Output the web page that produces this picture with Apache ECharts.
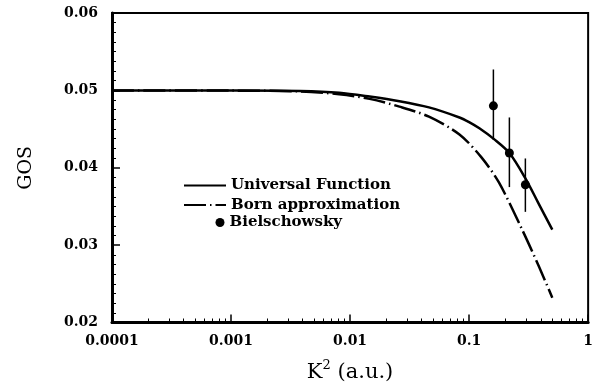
<!DOCTYPE html>
<html>
<head>
<meta charset="utf-8">
<script src="https://cdn.jsdelivr.net/npm/echarts@6/dist/echarts.min.js"></script>
<style>html,body{margin:0;padding:0;background:#fff;}#c{width:596px;height:388px;}</style>
</head>
<body>
<div id="c"></div>
<script>
// Universal Function curve (K^2, GOS)
const universalK2 = [0.0001, 0.001, 0.0038, 0.0081, 0.0146, 0.026, 0.046, 0.083, 0.1, 0.122, 0.162, 0.218, 0.298, 0.38, 0.50];
const universalGOS = [0.0500, 0.04998, 0.04992, 0.0497, 0.0492, 0.0486, 0.0478, 0.0465, 0.0459, 0.0451, 0.0437, 0.0419, 0.0386, 0.0355, 0.0320];
// Born approximation curve
const bornK2 = [0.0001, 0.001, 0.0038, 0.0081, 0.0146, 0.026, 0.046, 0.083, 0.126, 0.178, 0.279, 0.387, 0.50];
const bornGOS = [0.0500, 0.04997, 0.04987, 0.0495, 0.0489, 0.0479, 0.0466, 0.0443, 0.0414, 0.0381, 0.0320, 0.0272, 0.0232];
// Bielschowsky data points with error bars
const bielK2 = [0.160, 0.218, 0.297];
const bielGOS = [0.0480, 0.0419, 0.0378];
const bielLow = [0.0436, 0.0375, 0.0343];
const bielHigh = [0.0527, 0.0465, 0.0412];
// Axis tick labels
const xTickValues = [0.0001, 0.001, 0.01, 0.1, 1];
const xTickLabels = ['0.0001', '0.001', '0.01', '0.1', '1'];
const yTickLabels = ['0.02', '0.03', '0.04', '0.05', '0.06'];
const xMinorMultipliers = [2, 3, 4, 5, 6, 7, 8, 9];

const xMinor = [];
for (let d = 0; d < 4; d++) {
  xMinorMultipliers.forEach(m => xMinor.push(+(m * xTickValues[d]).toPrecision(3)));
}

const FONT = 'DejaVu Serif';
const chart = echarts.init(document.getElementById('c'));
chart.setOption({
  animation: false,
  backgroundColor: '#fff',
  grid: { left: 112, right: 7, top: 13, bottom: 65, show: true, borderColor: '#000', borderWidth: 2, backgroundColor: 'transparent' },
  xAxis: [{
    type: 'log', logBase: 10, min: 0.0001, max: 1,
    axisLine: { show: true, lineStyle: { color: '#000', width: 3 } },
    axisTick: { show: true, inside: true, length: 8, lineStyle: { color: '#000', width: 1.5 } },
    splitLine: { show: false },
    axisLabel: {
      margin: 12, color: '#000', fontFamily: FONT, fontWeight: 'bold', fontSize: 14,
      formatter: v => { const i = xTickValues.findIndex(t => Math.abs(Math.log10(t) - Math.log10(v)) < 1e-6); return i >= 0 ? xTickLabels[i] : ''; }
    },
    name: '{a|K}{s|2}{a| (a.u.)}', nameLocation: 'middle', nameGap: 37,
    nameTextStyle: {
      rich: {
        a: { fontFamily: FONT, fontSize: 21, color: '#000', fontWeight: 'normal' },
        s: { fontFamily: FONT, fontSize: 13, color: '#000', padding: [0, 0, 13, 0] }
      }
    }
  }, {
    type: 'log', logBase: 10, min: 0.0001, max: 1, position: 'bottom', gridIndex: 0,
    axisLine: { show: false },
    axisLabel: { show: false },
    splitLine: { show: false },
    axisTick: { show: true, inside: true, length: 4, customValues: xMinor, lineStyle: { color: '#000', width: 1 } }
  }],
  yAxis: {
    type: 'value', min: 0.02, max: 0.06, interval: 0.01,
    axisLine: { show: true, lineStyle: { color: '#000', width: 3 } },
    axisTick: { show: true, inside: true, length: 8, lineStyle: { color: '#000', width: 1.5 } },
    minorTick: { show: true, splitNumber: 8, length: 4, lineStyle: { color: '#000', width: 1 } },
    splitLine: { show: false },
    axisLabel: {
      margin: 14, color: '#000', fontFamily: FONT, fontWeight: 'bold', fontSize: 14,
      formatter: v => yTickLabels[Math.round((v - 0.02) / 0.01)]
    },
    name: 'GOS', nameLocation: 'middle', nameGap: 76, nameRotate: 90,
    nameTextStyle: { fontFamily: FONT, fontSize: 19, color: '#000' }
  },
  legend: [{
    orient: 'vertical', left: 183, top: 178, padding: 0, itemWidth: 42, itemHeight: 14, itemGap: 4.5,
    data: ['Universal Function', 'Born approximation'],
    itemStyle: { opacity: 0 },
    textStyle: { fontFamily: FONT, fontWeight: 'bold', fontSize: 15, color: '#000' }
  }, {
    orient: 'vertical', left: 215.5, top: 215, padding: 0, itemWidth: 9, itemHeight: 9, itemGap: 5,
    data: ['Bielschowsky'],
    itemStyle: { opacity: 1 },
    textStyle: { fontFamily: FONT, fontWeight: 'bold', fontSize: 15, color: '#000' }
  }],
  series: [{
    name: 'Universal Function', type: 'line', smooth: 0.3, symbol: 'none',
    data: universalK2.map((x, i) => [x, universalGOS[i]]),
    lineStyle: { color: '#000', width: 2.5 }, itemStyle: { color: '#000' }
  }, {
    name: 'Born approximation', type: 'line', smooth: 0.3, symbol: 'none',
    data: bornK2.map((x, i) => [x, bornGOS[i]]),
    lineStyle: { color: '#000', width: 2.5, type: [22, 4, 1.5, 4] }, itemStyle: { color: '#000' }
  }, {
    name: 'errbars', type: 'custom',
    data: bielK2.map((x, i) => [x, bielLow[i], bielHigh[i]]),
    renderItem: (params, api) => {
      const p1 = api.coord([api.value(0), api.value(1)]);
      const p2 = api.coord([api.value(0), api.value(2)]);
      return { type: 'line', shape: { x1: p1[0], y1: p1[1], x2: p2[0], y2: p2[1] }, style: { stroke: '#000', lineWidth: 1.5 } };
    },
    z: 3
  }, {
    name: 'Bielschowsky', type: 'scatter', symbol: 'circle', symbolSize: 9,
    data: bielK2.map((x, i) => [x, bielGOS[i]]),
    itemStyle: { color: '#000', opacity: 1 }, z: 4
  }]
});
</script>
</body>
</html>
